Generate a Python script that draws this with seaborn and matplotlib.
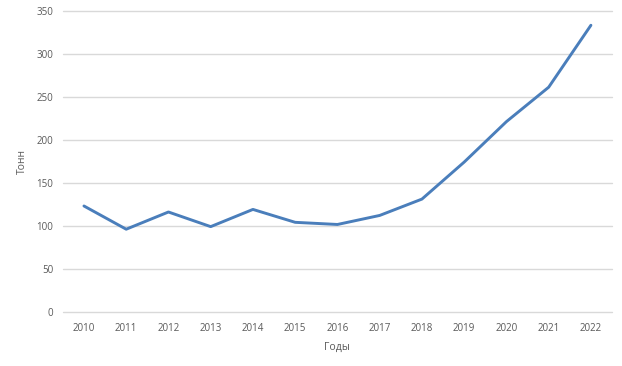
import pandas as pd
import seaborn as sns
import matplotlib.pyplot as plt

# данные с графика
years = ["2010", "2011", "2012", "2013", "2014", "2015", "2016",
         "2017", "2018", "2019", "2020", "2021", "2022"]
tonnes = [123, 96, 116, 99, 119, 104, 101.5, 112, 131, 174, 221, 261, 333]
yticks = [0, 50, 100, 150, 200, 250, 300, 350]

df = pd.DataFrame({"Годы": years, "Тонн": tonnes})

sns.set_style("white")
plt.rcParams["font.family"] = ["Open Sans", "DejaVu Sans"]

fig = plt.figure(figsize=(6.22, 3.66), dpi=100)
ax = fig.add_axes([0.101, 0.148, 0.883, 0.823])

sns.lineplot(data=df, x="Годы", y="Тонн", ax=ax, color="#4A7EBB", linewidth=2.1)

ax.set_xlim(-0.5, len(years) - 0.5)
ax.set_ylim(0, 350)
ax.set_yticks(yticks)
ax.yaxis.grid(True, color="#D9D9D9", linewidth=1, clip_on=False)
ax.set_axisbelow(True)
sns.despine(ax=ax, left=True, bottom=True)
ax.tick_params(axis="both", length=0, labelsize=7, labelcolor="#595959", pad=8)
ax.tick_params(axis="y", pad=7)
ax.set_xlabel("Годы", fontsize=7.5, color="#595959", labelpad=6)
ax.set_ylabel("Тонн", fontsize=7.5, color="#595959", labelpad=6)

fig.savefig("out.png", dpi=100)
